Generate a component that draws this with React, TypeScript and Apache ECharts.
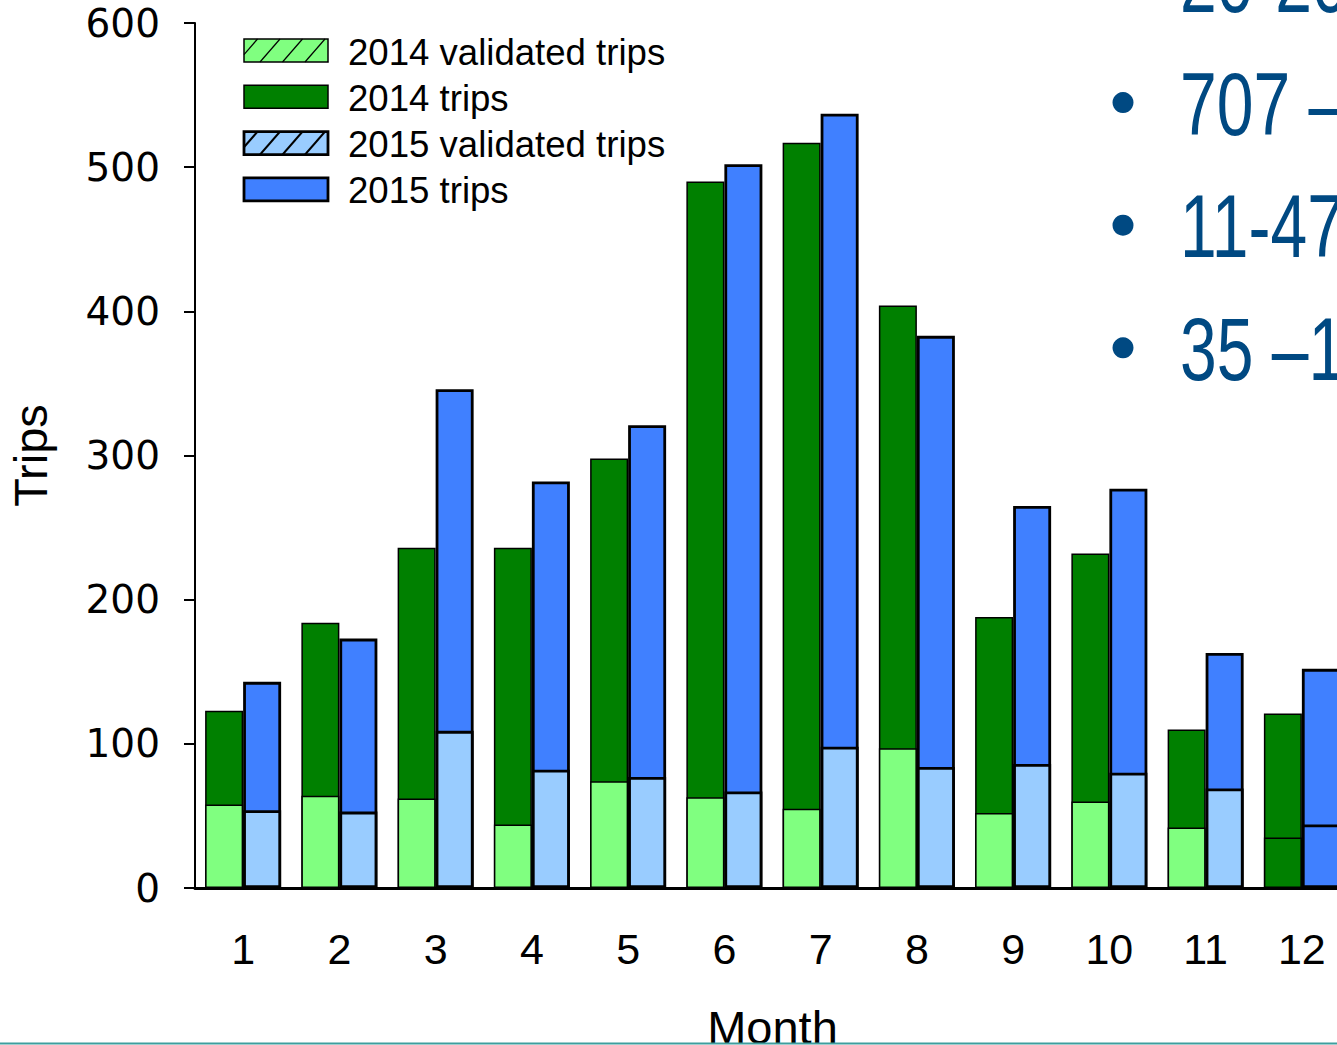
import React, { useEffect, useRef } from "react";
import * as echarts from "echarts";

const months = ["1", "2", "3", "4", "5", "6", "7", "8", "9", "10", "11", "12"];
const trips2014 = [123, 184, 236, 236, 298, 490, 517, 404, 188, 232, 110, 121];
const validated2014 = [58, 64, 62, 44, 74, 63, 55, 97, 52, 60, 42, 35];
const trips2015 = [143, 173, 346, 282, 321, 502, 537, 383, 265, 277, 163, 152];
const validated2015 = [54, 53, 109, 82, 77, 67, 98, 84, 86, 80, 69, 44];
const yTicks = [0, 100, 200, 300, 400, 500, 600];
const legendNames = ["2014 validated trips", "2014 trips", "2015 validated trips", "2015 trips"];
const sideTexts = ["20-20", "707 –", "11-47", "35 –1"];

const FONT = '"Liberation Sans", Arial, sans-serif';
const WIDE_FONT = '"DejaVu Sans", "Liberation Sans", sans-serif';
const DARK_GREEN = "#008000";
const LIGHT_GREEN = "#80FF80";
const BLUE = "#4080FF";
const LIGHT_BLUE = "#99CCFF";
const TEXT_BLUE = "#004982";

function hatchLines(x0: number, y0: number, w: number, h: number, width: number) {
  const out: any[] = [];
  const dx = 20;
  const step = 22.5;
  for (let b = x0 - 6.5; b < x0 + w; b += step) {
    let xb = b, yb = y0 + h;
    let xt = b + dx, yt = y0;
    if (xb < x0) {
      yb = y0 + h - ((x0 - xb) * h) / dx;
      xb = x0;
    }
    if (xt > x0 + w) {
      yt = y0 + ((xt - (x0 + w)) * h) / dx;
      xt = x0 + w;
    }
    if (xt <= xb) continue;
    out.push({
      type: "line",
      shape: { x1: xb, y1: yb, x2: xt, y2: yt },
      style: { stroke: "#000", lineWidth: width },
      z: 10,
    });
  }
  return out;
}

export default function App() {
  const ref = useRef<HTMLDivElement>(null);
  useEffect(() => {
    document.body.style.margin = "0";
    const chart = echarts.init(ref.current!, undefined, { renderer: "svg" });

    const legendFills = [LIGHT_GREEN, DARK_GREEN, LIGHT_BLUE, BLUE];
    const legendBorders = [1.5, 1.5, 2.8, 2.8];
    const legendHatch = [true, false, true, false];
    const legendGraphics: any[] = [];
    legendNames.forEach((name, i) => {
      const top = 39 + i * 46.3;
      legendGraphics.push({
        type: "rect",
        shape: { x: 244, y: top, width: 84, height: 23 },
        style: { fill: legendFills[i], stroke: "#000", lineWidth: legendBorders[i] },
        z: 9,
      });
      if (legendHatch[i]) {
        legendGraphics.push(...hatchLines(244, top, 84, 23, i === 0 ? 1.2 : 2.2));
      }
      legendGraphics.push({
        type: "text",
        x: 348,
        y: top + 13,
        style: { text: name, font: `36.6px ${FONT}`, fill: "#000", verticalAlign: "middle", textAlign: "left" },
        z: 10,
      });
    });

    const sideGraphics: any[] = [];
    sideTexts.forEach((t, i) => {
      const mid = -18.5 + i * 122.6;
      sideGraphics.push({
        type: "text",
        x: 1180,
        y: mid,
        scaleX: 0.75,
        style: { text: t, font: `88px ${FONT}`, fill: TEXT_BLUE, verticalAlign: "middle", textAlign: "left" },
        z: 10,
      });
      if (i > 0) {
        sideGraphics.push({
          type: "circle",
          shape: { cx: 1123, cy: mid - 1.5, r: 10.5 },
          style: { fill: TEXT_BLUE },
          z: 10,
        });
      }
    });

    const plainLast = (arr: number[], color: string) =>
      arr.map((v, i) => (i === arr.length - 1 ? { value: v, itemStyle: { color } } : v));

    chart.setOption({
      animation: false,
      textStyle: { fontFamily: FONT },
      grid: { left: 195, top: 23, width: 1155, height: 865, containLabel: false, outerBoundsMode: "none" },
      xAxis: [
        {
          type: "category",
          data: months,
          name: "Month",
          nameLocation: "middle",
          nameGap: 116,
          nameTextStyle: { fontSize: 47, color: "#000", fontFamily: FONT },
          axisLine: { lineStyle: { color: "#000", width: 3 } },
          axisTick: { alignWithLabel: true, length: 11, lineStyle: { color: "#222", width: 2 } },
          axisLabel: { fontSize: 43, color: "#000", margin: 39, fontFamily: FONT },
          splitLine: { show: false },
        },
        { type: "category", data: months, show: false },
      ],
      yAxis: {
        type: "value",
        min: yTicks[0],
        max: yTicks[yTicks.length - 1],
        interval: 100,
        name: "Trips",
        nameLocation: "middle",
        nameGap: 141,
        nameTextStyle: { fontSize: 47, color: "#000", fontFamily: FONT },
        axisLine: { show: true, lineStyle: { color: "#000", width: 2 } },
        axisTick: { show: true, length: 11, lineStyle: { color: "#000", width: 2 } },
        axisLabel: { fontSize: 39, color: "#000", margin: 35, fontFamily: WIDE_FONT },
        splitLine: { show: false },
      },
      series: [
        {
          name: "2014 trips",
          type: "bar",
          xAxisIndex: 0,
          data: trips2014,
          barWidth: 38,
          barGap: "0%",
          itemStyle: { color: DARK_GREEN, borderColor: "#000", borderWidth: 1.5 },
          z: 2,
        },
        {
          name: "2015 trips",
          type: "bar",
          xAxisIndex: 0,
          data: trips2015,
          barWidth: 38,
          barGap: "0%",
          itemStyle: { color: BLUE, borderColor: "#000", borderWidth: 2.8 },
          z: 3,
        },
        {
          name: "2014 validated trips",
          type: "bar",
          xAxisIndex: 1,
          data: plainLast(validated2014, DARK_GREEN),
          barWidth: 38,
          barGap: "0%",
          itemStyle: { color: LIGHT_GREEN, borderColor: "#000", borderWidth: 1.5 },
          z: 4,
        },
        {
          name: "2015 validated trips",
          type: "bar",
          xAxisIndex: 1,
          data: plainLast(validated2015, BLUE),
          barWidth: 38,
          barGap: "0%",
          itemStyle: { color: LIGHT_BLUE, borderColor: "#000", borderWidth: 2.8 },
          z: 5,
        },
      ],
      graphic: [
        ...legendGraphics,
        ...sideGraphics,
        {
          type: "line",
          shape: { x1: 0, y1: 1043.5, x2: 1400, y2: 1043.5 },
          style: { stroke: "#3E9E9E", lineWidth: 2 },
          z: 20,
        },
      ],
    });
    return () => chart.dispose();
  }, []);

  return (
    <div style={{ width: 1337, height: 1045, overflow: "hidden", position: "relative" }}>
      <div ref={ref} style={{ width: 1400, height: 1045, position: "absolute", left: 0, top: 0 }} />
    </div>
  );
}
